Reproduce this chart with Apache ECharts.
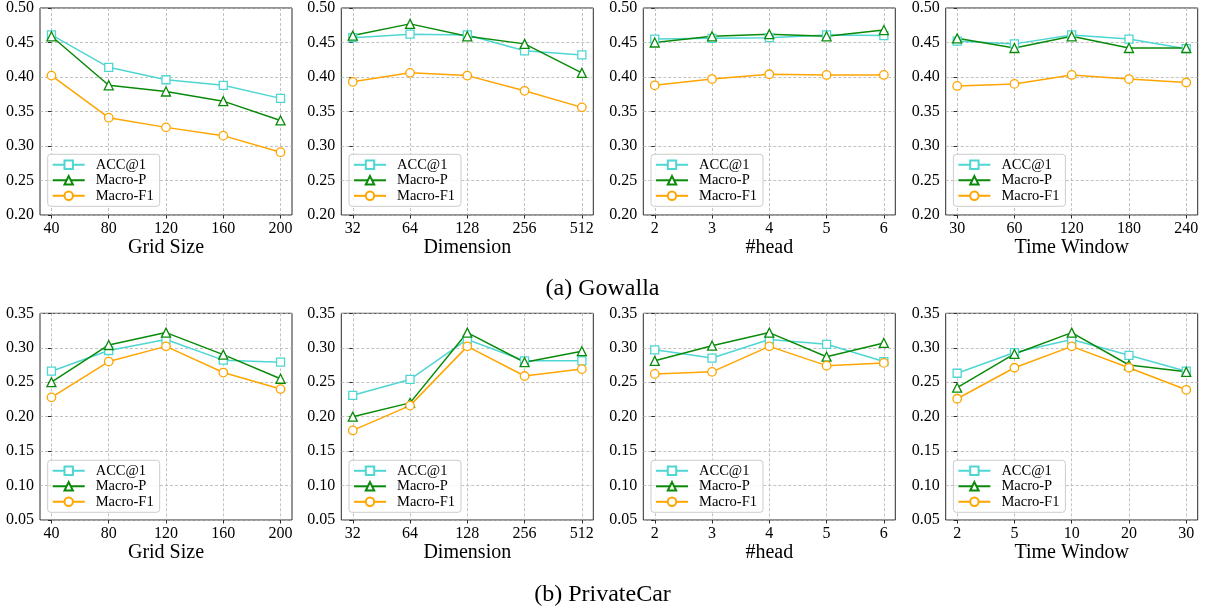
<!DOCTYPE html>
<html>
<head>
<meta charset="utf-8">
<script src="https://cdn.jsdelivr.net/npm/echarts@6/dist/echarts.min.js"></script>
<style>
html,body{margin:0;padding:0;background:#fff;}
#chart{width:1205px;height:610px;}
</style>
</head>
<body>
<div id="chart"></div>
<script>
// ---- tick labels (categories) ----
const gridSizeLabels = ['40', '80', '120', '160', '200'];
const dimensionLabels = ['32', '64', '128', '256', '512'];
const headLabels = ['2', '3', '4', '5', '6'];
const timeWindowGowallaLabels = ['30', '60', '120', '180', '240'];
const timeWindowCarLabels = ['2', '5', '10', '20', '30'];

const seriesNames = ['ACC@1', 'Macro-P', 'Macro-F1'];
const axisTitles = ['Grid Size', 'Dimension', '#head', 'Time Window'];
const rowTitles = ['(a) Gowalla', '(b) PrivateCar'];

// ---- Gowalla ----
const gowallaGridAcc = [0.461, 0.414, 0.396, 0.388, 0.369];
const gowallaGridP   = [0.459, 0.388, 0.379, 0.365, 0.337];
const gowallaGridF1  = [0.402, 0.341, 0.327, 0.315, 0.291];

const gowallaDimAcc = [0.457, 0.462, 0.461, 0.438, 0.432];
const gowallaDimP   = [0.460, 0.477, 0.459, 0.448, 0.406];
const gowallaDimF1  = [0.393, 0.406, 0.402, 0.380, 0.356];

const gowallaHeadAcc = [0.455, 0.456, 0.457, 0.461, 0.460];
const gowallaHeadP   = [0.450, 0.459, 0.462, 0.459, 0.468];
const gowallaHeadF1  = [0.388, 0.397, 0.404, 0.403, 0.403];

const gowallaTimeAcc = [0.452, 0.448, 0.461, 0.455, 0.441];
const gowallaTimeP   = [0.456, 0.442, 0.459, 0.442, 0.442];
const gowallaTimeF1  = [0.387, 0.390, 0.403, 0.397, 0.392];

// ---- PrivateCar ----
const carGridAcc = [0.266, 0.296, 0.312, 0.282, 0.279];
const carGridP   = [0.250, 0.304, 0.322, 0.290, 0.255];
const carGridF1  = [0.228, 0.280, 0.302, 0.264, 0.240];

const carDimAcc = [0.231, 0.254, 0.312, 0.281, 0.281];
const carDimP   = [0.200, 0.220, 0.322, 0.279, 0.295];
const carDimF1  = [0.180, 0.216, 0.302, 0.259, 0.269];

const carHeadAcc = [0.297, 0.285, 0.312, 0.305, 0.280];
const carHeadP   = [0.281, 0.303, 0.322, 0.287, 0.307];
const carHeadF1  = [0.262, 0.265, 0.302, 0.274, 0.278];

const carTimeAcc = [0.263, 0.293, 0.312, 0.289, 0.266];
const carTimeP   = [0.242, 0.291, 0.322, 0.275, 0.265];
const carTimeF1  = [0.226, 0.271, 0.302, 0.271, 0.239];

const gowallaYRange = [0.20, 0.50];
const carYRange = [0.05, 0.35];

// ---- layout / style ----
const FONT = '"Liberation Serif", "Times New Roman", serif';
const colors = ['#4fd6d2', '#0a8a0a', '#ffa500'];
const symbols = ['rect', 'triangle', 'circle'];
const symbolSizes = [8, 9, 8.5];

const panels = [
  {row: 0, col: 0, labels: gridSizeLabels, data: [gowallaGridAcc, gowallaGridP, gowallaGridF1], title: axisTitles[0], y: gowallaYRange},
  {row: 0, col: 1, labels: dimensionLabels, data: [gowallaDimAcc, gowallaDimP, gowallaDimF1], title: axisTitles[1], y: gowallaYRange},
  {row: 0, col: 2, labels: headLabels, data: [gowallaHeadAcc, gowallaHeadP, gowallaHeadF1], title: axisTitles[2], y: gowallaYRange},
  {row: 0, col: 3, labels: timeWindowGowallaLabels, data: [gowallaTimeAcc, gowallaTimeP, gowallaTimeF1], title: axisTitles[3], y: gowallaYRange},
  {row: 1, col: 0, labels: gridSizeLabels, data: [carGridAcc, carGridP, carGridF1], title: axisTitles[0], y: carYRange},
  {row: 1, col: 1, labels: dimensionLabels, data: [carDimAcc, carDimP, carDimF1], title: axisTitles[1], y: carYRange},
  {row: 1, col: 2, labels: headLabels, data: [carHeadAcc, carHeadP, carHeadF1], title: axisTitles[2], y: carYRange},
  {row: 1, col: 3, labels: timeWindowCarLabels, data: [carTimeAcc, carTimeP, carTimeF1], title: axisTitles[3], y: carYRange}
];

const gridLefts = [40, 341.3, 643.3, 945.7];
const gridWidth = 252;
const gridTops = [7.3, 313.3];
const gridHeights = [207.7, 206.7];

const grids = [], xAxes = [], yAxes = [], series = [], legends = [];

panels.forEach((p, i) => {
  const left = gridLefts[p.col];
  const top = gridTops[p.row];
  const height = gridHeights[p.row];
  grids.push({
    left: left, top: top, width: gridWidth, height: height,
    show: true, borderColor: '#2b2b2b', borderWidth: 1, backgroundColor: 'transparent',
    containLabel: false
  });
  const idx = p.labels.map((_, k) => k);
  xAxes.push({
    type: 'value', gridIndex: i,
    min: -0.2, max: p.labels.length - 1 + 0.2,
    name: p.title, nameLocation: 'middle', nameGap: 18,
    nameTextStyle: {fontFamily: FONT, fontSize: 20, color: '#000'},
    axisLine: {show: false},
    axisTick: {show: true, inside: false, length: 3.5, lineStyle: {color: '#2b2b2b', width: 1}, customValues: idx},
    axisLabel: {
      show: true, margin: 6, fontFamily: FONT, fontSize: 16, color: '#000',
      customValues: idx,
      formatter: (v) => { const k = Math.round(v); return Math.abs(v - k) < 1e-6 ? p.labels[k] : ''; }
    },
    splitLine: {show: true, lineStyle: {color: '#b3b3b3', width: 0.8, type: [3, 2]}}
  });
  yAxes.push({
    type: 'value', gridIndex: i,
    min: p.y[0], max: p.y[1], interval: 0.05,
    axisLine: {show: false},
    axisTick: {show: true, inside: false, length: 3.5, lineStyle: {color: '#2b2b2b', width: 1}},
    axisLabel: {show: true, margin: 6, fontFamily: FONT, fontSize: 16, color: '#000',
      formatter: (v) => v.toFixed(2)},
    splitLine: {show: true, lineStyle: {color: '#b3b3b3', width: 0.8, type: [3, 2]}}
  });
  p.data.forEach((vals, s) => {
    series.push({
      type: 'line', name: seriesNames[s], xAxisIndex: i, yAxisIndex: i,
      data: vals.map((v, k) => [k, v]),
      symbol: symbols[s], symbolSize: symbolSizes[s], showAllSymbol: true,
      lineStyle: {color: colors[s], width: 1.5},
      itemStyle: {color: '#ffffff', borderColor: colors[s], borderWidth: 1.3},
      emphasis: {disabled: true},
      animation: false, silent: true
    });
  });
  legends.push({
    data: seriesNames, orient: 'vertical', selectedMode: false,
    left: left + 7.7, top: top + 147,
    padding: [3, 6, 3, 4],
    itemWidth: 32, itemHeight: 10.5, itemGap: 0.5,
    backgroundColor: 'rgba(255,255,255,0.85)', borderColor: '#cccccc', borderWidth: 1, borderRadius: 3,
    textStyle: {fontFamily: FONT, fontSize: 14.5, lineHeight: 15, color: '#000', padding: [0, 0, 0, 6]}
  });
});

const titles = rowTitles.map((t, r) => ({
  text: t, left: 'center', top: r === 0 ? 272 : 578,
  textStyle: {fontFamily: FONT, fontSize: 24, fontWeight: 'normal', color: '#000'}
}));

const chart = echarts.init(document.getElementById('chart'), null, {renderer: 'canvas'});
chart.setOption({
  animation: false,
  backgroundColor: '#fff',
  title: titles,
  grid: grids,
  xAxis: xAxes,
  yAxis: yAxes,
  legend: legends,
  series: series
});
</script>
</body>
</html>
